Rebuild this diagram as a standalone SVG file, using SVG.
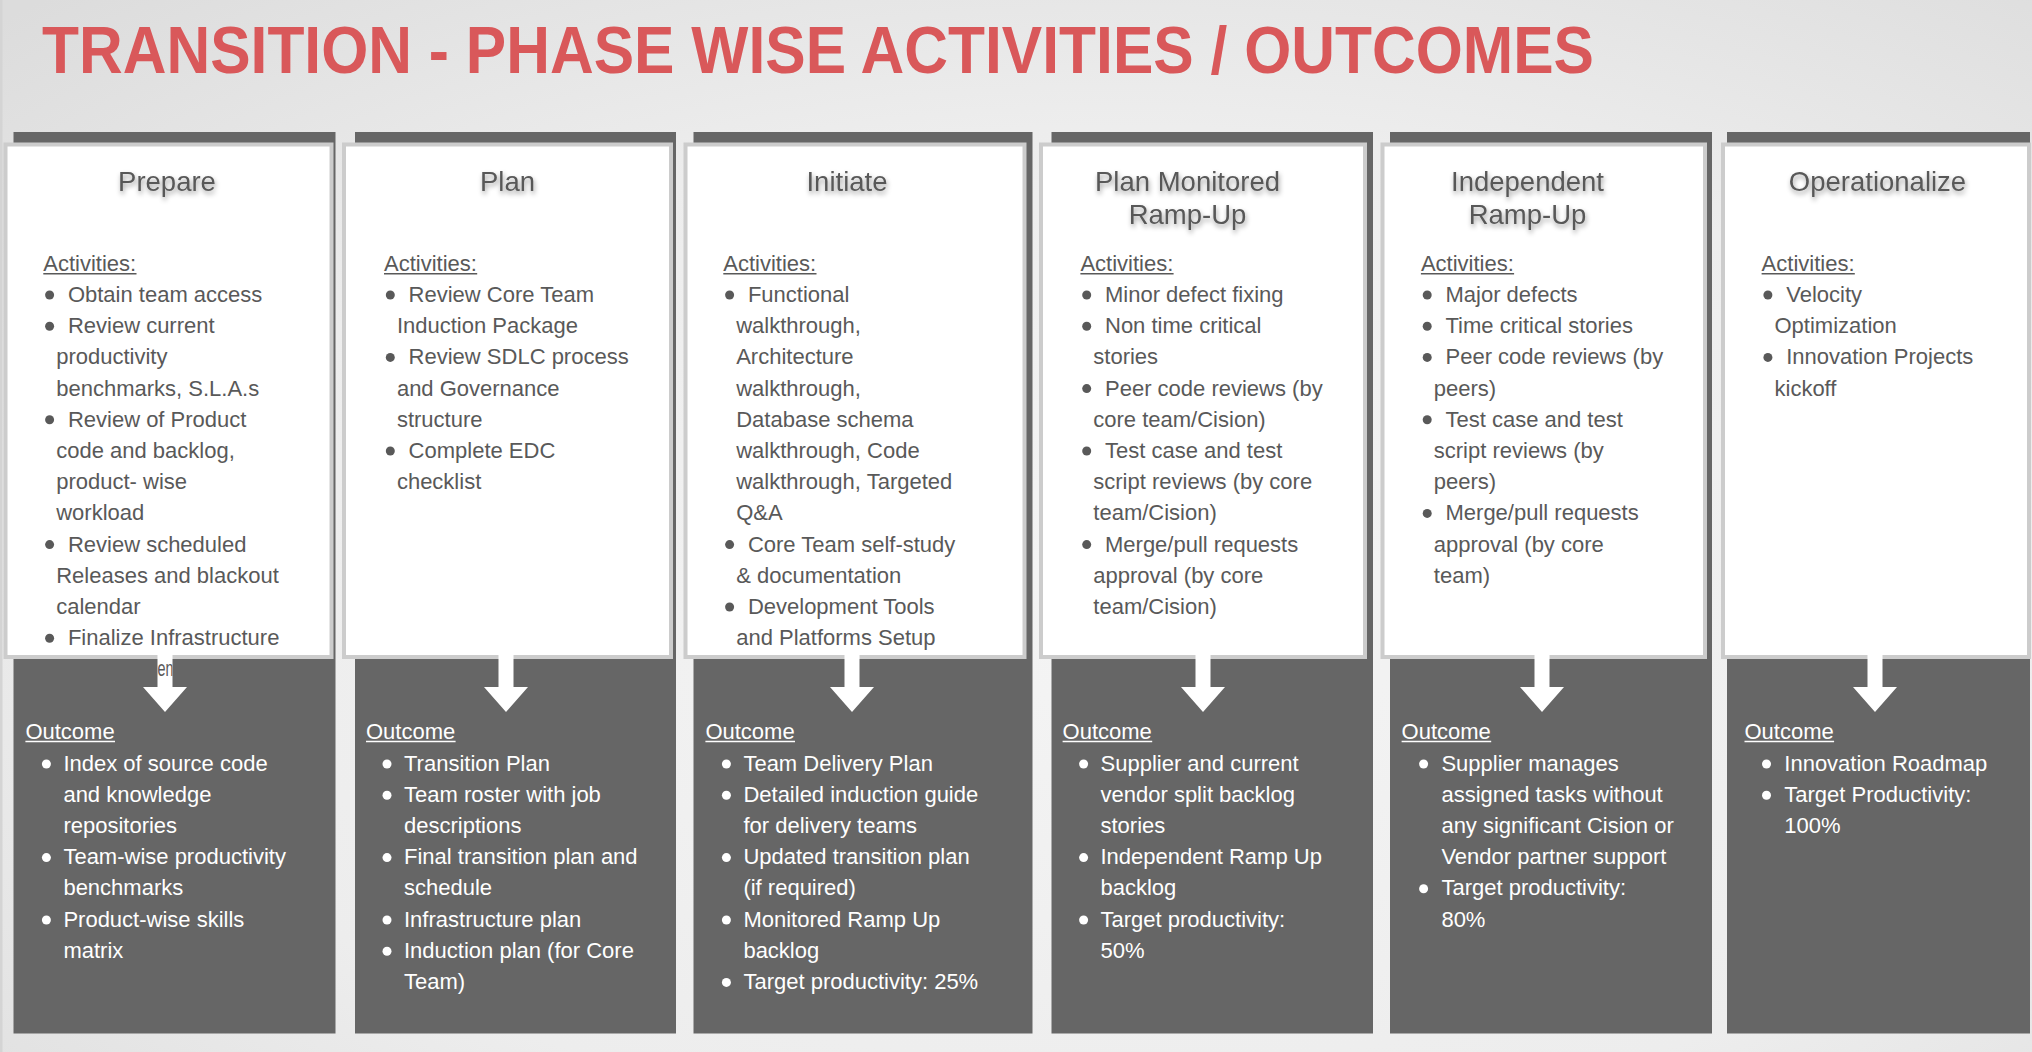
<svg xmlns="http://www.w3.org/2000/svg" width="2032" height="1052" viewBox="0 0 2032 1052">
  <defs>
    <radialGradient id="bg" cx="0.55" cy="0.6" r="0.8">
      <stop offset="0" stop-color="#f4f4f4"/>
      <stop offset="0.6" stop-color="#ededed"/>
      <stop offset="1" stop-color="#dcdcdc"/>
    </radialGradient>
    <filter id="hshadow" x="-20%" y="-40%" width="140%" height="200%">
      <feDropShadow dx="1" dy="3" stdDeviation="2.5" flood-color="#000" flood-opacity="0.4"/>
    </filter>
    <clipPath id="shaft1">
      <rect x="157.5" y="650" width="15" height="40"/>
    </clipPath>
    <style>
      .band { fill: #666666; }
      .card { fill: #ffffff; stroke: #cccccc; stroke-width: 4; }
      .head { font-family: "Liberation Sans", Arial, sans-serif; font-size: 27.5px; fill: #595959; text-anchor: middle; filter: url(#hshadow); }
      .act { font-family: "Liberation Sans", Arial, sans-serif; font-size: 22px; fill: #595959; }
      .out { font-family: "Liberation Sans", Arial, sans-serif; font-size: 22px; fill: #ffffff; }
      .ul-act { stroke: #595959; stroke-width: 1.5; }
      .ul-out { stroke: #ffffff; stroke-width: 1.5; }
      .dot-act { fill: #595959; }
      .dot-out { fill: #ffffff; }
      .arrow { fill: #ffffff; }
      .title { font-family: "Liberation Sans", Arial, sans-serif; font-weight: bold; font-size: 67px; fill: #d9585a; }
    </style>
  </defs>

  <!-- page background -->
  <rect x="0" y="0" width="2032" height="1052" fill="url(#bg)"/>
  <rect x="0" y="0" width="2.5" height="1052" fill="#d4d4d4"/>

  <text class="title" x="42" y="72.7" textLength="1552" lengthAdjust="spacingAndGlyphs">TRANSITION - PHASE WISE ACTIVITIES / OUTCOMES</text>

  <!-- Phase 1 -->
  <g id="prepare">
    <rect class="band" x="13.5" y="132" width="322" height="901.5"/>
    <rect class="card" x="5.5" y="144.5" width="326" height="512.5"/>
    <text class="head" x="167" y="191.4">Prepare</text>
    <text class="act" x="43.3" y="270.5">Activities:</text>
    <line class="ul-act" x1="43.3" y1="273.8" x2="136.5" y2="273.8"/>
    <g class="dot-act">
      <circle cx="49.6" cy="295" r="4.5"/>
      <circle cx="49.6" cy="326.2" r="4.5"/>
      <circle cx="49.6" cy="419.8" r="4.5"/>
      <circle cx="49.6" cy="544.6" r="4.5"/>
      <circle cx="49.6" cy="638.2" r="4.5"/>
    </g>
    <text class="act">
      <tspan x="67.9" y="302">Obtain team access</tspan>
      <tspan x="67.9" y="333.2">Review current</tspan>
      <tspan x="56.2" y="364.4">productivity</tspan>
      <tspan x="56.2" y="395.6">benchmarks, S.L.A.s</tspan>
      <tspan x="67.9" y="426.8">Review of Product</tspan>
      <tspan x="56.2" y="458">code and backlog,</tspan>
      <tspan x="56.2" y="489.2">product- wise</tspan>
      <tspan x="56.2" y="520.4">workload</tspan>
      <tspan x="67.9" y="551.6">Review scheduled</tspan>
      <tspan x="56.2" y="582.8">Releases and blackout</tspan>
      <tspan x="56.2" y="614">calendar</tspan>
      <tspan x="67.9" y="645.2">Finalize Infrastructure</tspan>
    </text>
    <text class="out" x="25.4" y="738.5">Outcome</text>
    <line class="ul-out" x1="25.4" y1="741.5" x2="115" y2="741.5"/>
    <g class="dot-out">
      <circle cx="46.4" cy="764" r="4.5"/>
      <circle cx="46.4" cy="857.6" r="4.5"/>
      <circle cx="46.4" cy="920" r="4.5"/>
    </g>
    <text class="out">
      <tspan x="63.4" y="770.5">Index of source code</tspan>
      <tspan x="63.4" y="801.7">and knowledge</tspan>
      <tspan x="63.4" y="832.9">repositories</tspan>
      <tspan x="63.4" y="864.1">Team-wise productivity</tspan>
      <tspan x="63.4" y="895.3">benchmarks</tspan>
      <tspan x="63.4" y="926.5">Product-wise skills</tspan>
      <tspan x="63.4" y="957.7">matrix</tspan>
    </text>
  </g>

  <!-- Phase 2 -->
  <g id="plan">
    <rect class="band" x="355" y="132" width="321" height="901.5"/>
    <rect class="card" x="344" y="144.5" width="327" height="512.5"/>
    <text class="head" x="507.5" y="191.4">Plan</text>
    <text class="act" x="384" y="270.5">Activities:</text>
    <line class="ul-act" x1="384" y1="273.8" x2="477.2" y2="273.8"/>
    <g class="dot-act">
      <circle cx="390.3" cy="295" r="4.5"/>
      <circle cx="390.3" cy="357.4" r="4.5"/>
      <circle cx="390.3" cy="451" r="4.5"/>
    </g>
    <text class="act">
      <tspan x="408.6" y="302">Review Core Team</tspan>
      <tspan x="396.9" y="333.2">Induction Package</tspan>
      <tspan x="408.6" y="364.4">Review SDLC process</tspan>
      <tspan x="396.9" y="395.6">and Governance</tspan>
      <tspan x="396.9" y="426.8">structure</tspan>
      <tspan x="408.6" y="458">Complete EDC</tspan>
      <tspan x="396.9" y="489.2">checklist</tspan>
    </text>
    <text class="out" x="366" y="738.5">Outcome</text>
    <line class="ul-out" x1="366" y1="741.5" x2="455.6" y2="741.5"/>
    <g class="dot-out">
      <circle cx="387" cy="764" r="4.5"/>
      <circle cx="387" cy="795.2" r="4.5"/>
      <circle cx="387" cy="857.6" r="4.5"/>
      <circle cx="387" cy="920" r="4.5"/>
      <circle cx="387" cy="951.2" r="4.5"/>
    </g>
    <text class="out">
      <tspan x="404" y="770.5">Transition Plan</tspan>
      <tspan x="404" y="801.7">Team roster with job</tspan>
      <tspan x="404" y="832.9">descriptions</tspan>
      <tspan x="404" y="864.1">Final transition plan and</tspan>
      <tspan x="404" y="895.3">schedule</tspan>
      <tspan x="404" y="926.5">Infrastructure plan</tspan>
      <tspan x="404" y="957.7">Induction plan (for Core</tspan>
      <tspan x="404" y="988.9">Team)</tspan>
    </text>
  </g>

  <!-- Phase 3 -->
  <g id="initiate">
    <rect class="band" x="693.5" y="132" width="339" height="901.5"/>
    <rect class="card" x="685.5" y="144.5" width="339" height="512.5"/>
    <text class="head" x="847" y="191.4">Initiate</text>
    <text class="act" x="723.3" y="270.5">Activities:</text>
    <line class="ul-act" x1="723.3" y1="273.8" x2="816.5" y2="273.8"/>
    <g class="dot-act">
      <circle cx="729.6" cy="295" r="4.5"/>
      <circle cx="729.6" cy="544.6" r="4.5"/>
      <circle cx="729.6" cy="607" r="4.5"/>
    </g>
    <text class="act">
      <tspan x="747.9" y="302">Functional</tspan>
      <tspan x="736.2" y="333.2">walkthrough,</tspan>
      <tspan x="736.2" y="364.4">Architecture</tspan>
      <tspan x="736.2" y="395.6">walkthrough,</tspan>
      <tspan x="736.2" y="426.8">Database schema</tspan>
      <tspan x="736.2" y="458">walkthrough, Code</tspan>
      <tspan x="736.2" y="489.2">walkthrough, Targeted</tspan>
      <tspan x="736.2" y="520.4">Q&amp;A</tspan>
      <tspan x="747.9" y="551.6">Core Team self-study</tspan>
      <tspan x="736.2" y="582.8">&amp; documentation</tspan>
      <tspan x="747.9" y="614">Development Tools</tspan>
      <tspan x="736.2" y="645.2">and Platforms Setup</tspan>
    </text>
    <text class="out" x="705.4" y="738.5">Outcome</text>
    <line class="ul-out" x1="705.4" y1="741.5" x2="795" y2="741.5"/>
    <g class="dot-out">
      <circle cx="726.4" cy="764" r="4.5"/>
      <circle cx="726.4" cy="795.2" r="4.5"/>
      <circle cx="726.4" cy="857.6" r="4.5"/>
      <circle cx="726.4" cy="920" r="4.5"/>
      <circle cx="726.4" cy="982.4" r="4.5"/>
    </g>
    <text class="out">
      <tspan x="743.4" y="770.5">Team Delivery Plan</tspan>
      <tspan x="743.4" y="801.7">Detailed induction guide</tspan>
      <tspan x="743.4" y="832.9">for delivery teams</tspan>
      <tspan x="743.4" y="864.1">Updated transition plan</tspan>
      <tspan x="743.4" y="895.3">(if required)</tspan>
      <tspan x="743.4" y="926.5">Monitored Ramp Up</tspan>
      <tspan x="743.4" y="957.7">backlog</tspan>
      <tspan x="743.4" y="988.9">Target productivity: 25%</tspan>
    </text>
  </g>

  <!-- Phase 4 -->
  <g id="plan-monitored-ramp-up">
    <rect class="band" x="1051.5" y="132" width="321.5" height="901.5"/>
    <rect class="card" x="1041" y="144.5" width="324" height="512.5"/>
    <text class="head" x="1187.5" y="191.4">Plan Monitored</text>
    <text class="head" x="1187.5" y="223.6">Ramp-Up</text>
    <text class="act" x="1080.4" y="270.5">Activities:</text>
    <line class="ul-act" x1="1080.4" y1="273.8" x2="1173.6" y2="273.8"/>
    <g class="dot-act">
      <circle cx="1086.7" cy="295" r="4.5"/>
      <circle cx="1086.7" cy="326.2" r="4.5"/>
      <circle cx="1086.7" cy="388.6" r="4.5"/>
      <circle cx="1086.7" cy="451" r="4.5"/>
      <circle cx="1086.7" cy="544.6" r="4.5"/>
    </g>
    <text class="act">
      <tspan x="1105" y="302">Minor defect fixing</tspan>
      <tspan x="1105" y="333.2">Non time critical</tspan>
      <tspan x="1093.3" y="364.4">stories</tspan>
      <tspan x="1105" y="395.6">Peer code reviews (by</tspan>
      <tspan x="1093.3" y="426.8">core team/Cision)</tspan>
      <tspan x="1105" y="458">Test case and test</tspan>
      <tspan x="1093.3" y="489.2">script reviews (by core</tspan>
      <tspan x="1093.3" y="520.4">team/Cision)</tspan>
      <tspan x="1105" y="551.6">Merge/pull requests</tspan>
      <tspan x="1093.3" y="582.8">approval (by core</tspan>
      <tspan x="1093.3" y="614">team/Cision)</tspan>
    </text>
    <text class="out" x="1062.6" y="738.5">Outcome</text>
    <line class="ul-out" x1="1062.6" y1="741.5" x2="1152.2" y2="741.5"/>
    <g class="dot-out">
      <circle cx="1083.6" cy="764" r="4.5"/>
      <circle cx="1083.6" cy="857.6" r="4.5"/>
      <circle cx="1083.6" cy="920" r="4.5"/>
    </g>
    <text class="out">
      <tspan x="1100.5" y="770.5">Supplier and current</tspan>
      <tspan x="1100.5" y="801.7">vendor split backlog</tspan>
      <tspan x="1100.5" y="832.9">stories</tspan>
      <tspan x="1100.5" y="864.1">Independent Ramp Up</tspan>
      <tspan x="1100.5" y="895.3">backlog</tspan>
      <tspan x="1100.5" y="926.5">Target productivity:</tspan>
      <tspan x="1100.5" y="957.7">50%</tspan>
    </text>
  </g>

  <!-- Phase 5 -->
  <g id="independent-ramp-up">
    <rect class="band" x="1390" y="132" width="322" height="901.5"/>
    <rect class="card" x="1382.5" y="144.5" width="322.5" height="512.5"/>
    <text class="head" x="1527.5" y="191.4">Independent</text>
    <text class="head" x="1527.5" y="223.6">Ramp-Up</text>
    <text class="act" x="1420.9" y="270.5">Activities:</text>
    <line class="ul-act" x1="1420.9" y1="273.8" x2="1514.1" y2="273.8"/>
    <g class="dot-act">
      <circle cx="1427.2" cy="295" r="4.5"/>
      <circle cx="1427.2" cy="326.2" r="4.5"/>
      <circle cx="1427.2" cy="357.4" r="4.5"/>
      <circle cx="1427.2" cy="419.8" r="4.5"/>
      <circle cx="1427.2" cy="513.4" r="4.5"/>
    </g>
    <text class="act">
      <tspan x="1445.5" y="302">Major defects</tspan>
      <tspan x="1445.5" y="333.2">Time critical stories</tspan>
      <tspan x="1445.5" y="364.4">Peer code reviews (by</tspan>
      <tspan x="1433.8" y="395.6">peers)</tspan>
      <tspan x="1445.5" y="426.8">Test case and test</tspan>
      <tspan x="1433.8" y="458">script reviews (by</tspan>
      <tspan x="1433.8" y="489.2">peers)</tspan>
      <tspan x="1445.5" y="520.4">Merge/pull requests</tspan>
      <tspan x="1433.8" y="551.6">approval (by core</tspan>
      <tspan x="1433.8" y="582.8">team)</tspan>
    </text>
    <text class="out" x="1401.6" y="738.5">Outcome</text>
    <line class="ul-out" x1="1401.6" y1="741.5" x2="1491.2" y2="741.5"/>
    <g class="dot-out">
      <circle cx="1423.6" cy="764" r="4.5"/>
      <circle cx="1423.6" cy="888.8" r="4.5"/>
    </g>
    <text class="out">
      <tspan x="1441.4" y="770.5">Supplier manages</tspan>
      <tspan x="1441.4" y="801.7">assigned tasks without</tspan>
      <tspan x="1441.4" y="832.9">any significant Cision or</tspan>
      <tspan x="1441.4" y="864.1">Vendor partner support</tspan>
      <tspan x="1441.4" y="895.3">Target productivity:</tspan>
      <tspan x="1441.4" y="926.5">80%</tspan>
    </text>
  </g>

  <!-- Phase 6 -->
  <g id="operationalize">
    <rect class="band" x="1727" y="132" width="303" height="901.5"/>
    <rect class="card" x="1723" y="144.5" width="306" height="512.5"/>
    <text class="head" x="1877.5" y="191.4">Operationalize</text>
    <text class="act" x="1761.6" y="270.5">Activities:</text>
    <line class="ul-act" x1="1761.6" y1="273.8" x2="1854.8" y2="273.8"/>
    <g class="dot-act">
      <circle cx="1767.9" cy="295" r="4.5"/>
      <circle cx="1767.9" cy="357.4" r="4.5"/>
    </g>
    <text class="act">
      <tspan x="1786.2" y="302">Velocity</tspan>
      <tspan x="1774.5" y="333.2">Optimization</tspan>
      <tspan x="1786.2" y="364.4">Innovation Projects</tspan>
      <tspan x="1774.5" y="395.6">kickoff</tspan>
    </text>
    <text class="out" x="1744.5" y="738.5">Outcome</text>
    <line class="ul-out" x1="1744.5" y1="741.5" x2="1834.1" y2="741.5"/>
    <g class="dot-out">
      <circle cx="1766.5" cy="764" r="4.5"/>
      <circle cx="1766.5" cy="795.2" r="4.5"/>
    </g>
    <text class="out">
      <tspan x="1784.3" y="770.5">Innovation Roadmap</tspan>
      <tspan x="1784.3" y="801.7">Target Productivity:</tspan>
      <tspan x="1784.3" y="832.9">100%</tspan>
    </text>
  </g>

  <!-- activity-to-outcome arrows -->
  <g id="connectors" class="arrow">
    <path d="M157.5,654 H172.5 V687 H187 L165,712 L143,687 H157.5 Z"/>
    <path d="M498.5,654 H513.5 V687 H528 L506,712 L484,687 H498.5 Z"/>
    <path d="M844.5,654 H859.5 V687 H874 L852,712 L830,687 H844.5 Z"/>
    <path d="M1195.5,654 H1210.5 V687 H1225 L1203,712 L1181,687 H1195.5 Z"/>
    <path d="M1534.5,654 H1549.5 V687 H1564 L1542,712 L1520,687 H1534.5 Z"/>
    <path d="M1867.5,654 H1882.5 V687 H1897 L1875,712 L1853,687 H1867.5 Z"/>
  </g>

  <!-- overflowing last line of the first card, seen only through the arrow shaft -->
  <g id="prepare-overflow" clip-path="url(#shaft1)">
    <text class="act" x="157.5" y="676.4" textLength="16" lengthAdjust="spacingAndGlyphs">en</text>
  </g>
</svg>
